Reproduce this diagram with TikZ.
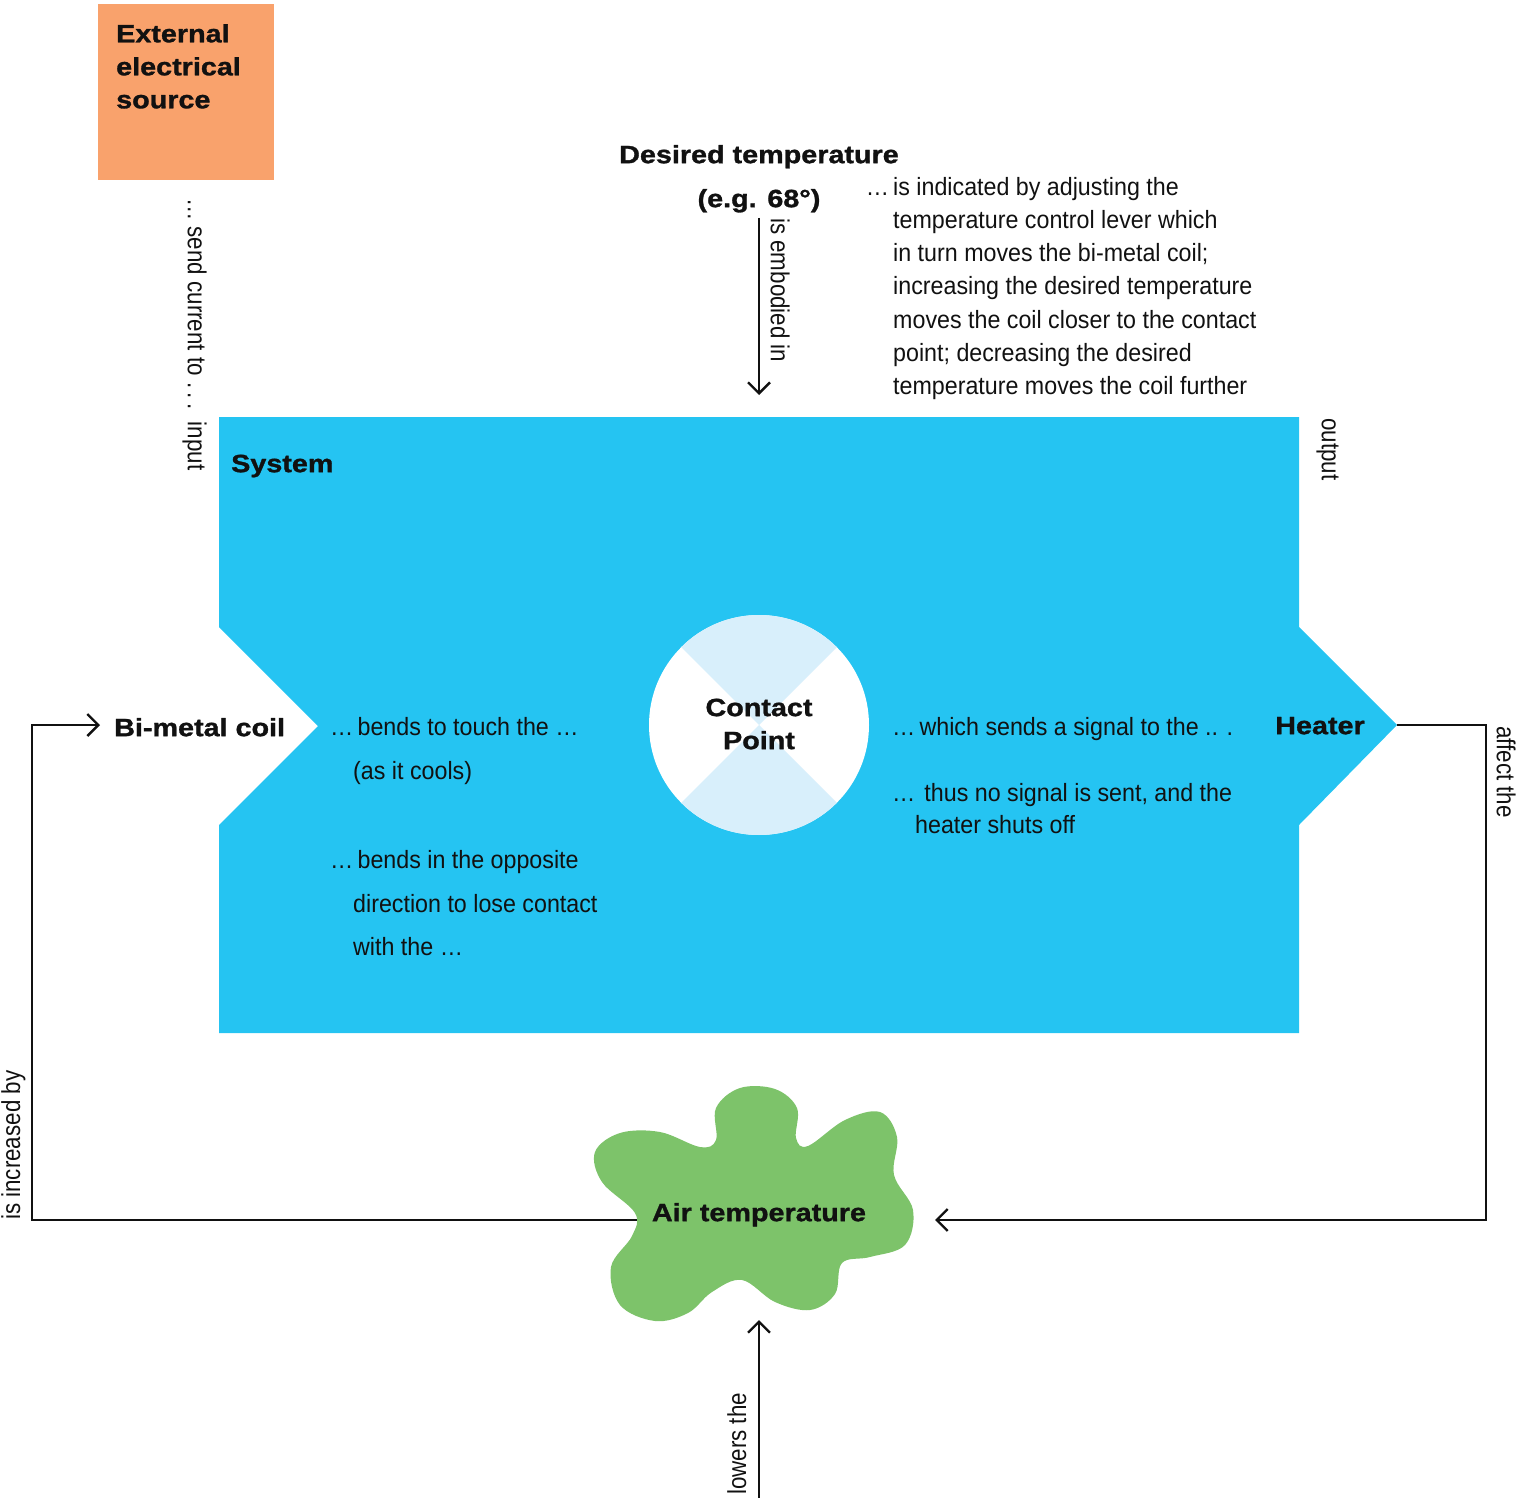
\documentclass[tikz,border=0pt]{standalone}
\usepackage{fontspec}
\usetikzlibrary{arrows.meta}
\newfontfamily\bodyfont[FakeStretch=0.93]{Liberation Sans}
\newfontfamily\sidefont[FakeStretch=0.86]{Liberation Sans}
\newfontfamily\lblfont[FakeStretch=1.15,FakeBold=1.2]{Liberation Sans}
\definecolor{sysblue}{HTML}{25C4F2}
\definecolor{paleblue}{HTML}{D8EFFB}
\definecolor{srcorange}{HTML}{F9A26C}
\definecolor{airgreen}{HTML}{7DC36A}
\definecolor{ink}{HTML}{111111}
\tikzset{
  bodytxt/.style={inner sep=0pt, anchor=mid west, text=ink, font=\bodyfont\fontsize{25}{33}\selectfont},
  sidetxt/.style={inner sep=0pt, anchor=mid west, text=ink, font=\sidefont\fontsize{26}{33}\selectfont},
  lbl/.style={inner sep=0pt, text=ink, font=\lblfont\bfseries\fontsize{25}{33}\selectfont},
  conn/.style={draw=ink, line width=2.4pt},
  tip/.style={-{Straight Barb[length=11pt, width=22pt, line width=2.4pt]}}
}
\begin{document}
\begin{tikzpicture}[x=1pt, y=-1pt]
\useasboundingbox (0,0) rectangle (1527,1498);

% external source block
\node[fill=srcorange, minimum width=176pt, minimum height=176pt, inner sep=0pt, anchor=north west] (src) at (98,4) {};
\node[lbl, anchor=north west, align=left] (srctxt) at (116,24) {External\\electrical\\source};
\node[sidetxt, rotate=-90] (sendlbl) at (190,198) {… send current to .\,.\,.\ \ input};

% system body with notch on the left and pointer on the right
\fill[sysblue] (219,417) -- (1299,417) -- (1299,627) -- (1397,725) -- (1299,825)
  -- (1299,1033) -- (219,1033) -- (219,825) -- (318,726) -- (219,627) -- cycle;
\node[lbl, anchor=mid west] (sys) at (231,470) {System};
\node[sidetxt, rotate=-90] (outlbl) at (1324,418) {output};

% contact point disc
\coordinate (cpc) at (759,725);
\fill[white] (cpc) circle[radius=110];
\fill[paleblue] (cpc) -- ++(45:110) arc[start angle=45, end angle=135, radius=110] -- cycle;
\fill[paleblue] (cpc) -- ++(225:110) arc[start angle=225, end angle=315, radius=110] -- cycle;
\node[lbl, align=center] (cp) at (759,724) {Contact\\Point};

% desired temperature and its note
\node[lbl, anchor=mid] (desired) at (759,161) {Desired temperature};
\node[lbl, anchor=mid] (eg) at (759,205) {(e.g. 68°)};
\coordinate (embodyend) at (759,395);
\draw[conn, tip] (eg.south |- 0,218) -- (embodyend);
\node[sidetxt, rotate=-90] (embodlbl) at (773,218) {is embodied in};

\node[bodytxt] (lever1) at (893,193) {\llap{…\,}is indicated by adjusting the};
\node[bodytxt] (lever2) at (893,226) {temperature control lever which};
\node[bodytxt] (lever3) at (893,259) {in turn moves the bi-metal coil;};
\node[bodytxt] (lever4) at (893,292) {increasing the desired temperature};
\node[bodytxt] (lever5) at (893,326) {moves the coil closer to the contact};
\node[bodytxt] (lever6) at (893,359) {point; decreasing the desired};
\node[bodytxt] (lever7) at (893,392) {temperature moves the coil further};

% bi-metal coil side
\node[lbl, anchor=mid west] (coil) at (114,734) {Bi-metal coil};
\node[bodytxt] (touch1) at (330,733) {…\,bends to touch the …};
\node[bodytxt] (touch2) at (353,777) {(as it cools)};
\node[bodytxt] (lose1) at (330,866) {…\,bends in the opposite};
\node[bodytxt] (lose2) at (353,910) {direction to lose contact};
\node[bodytxt] (lose3) at (353,953) {with the …};

% heater side
\node[lbl, anchor=mid] (heater) at (1320,732) {Heater};
\node[bodytxt] (signal) at (892,733) {…\,which sends a signal to the .. .};
\node[bodytxt] (nosig1) at (892,799) {…\hspace{9pt}thus no signal is sent, and the};
\node[bodytxt] (nosig2) at (915,831) {heater shuts off};

% feedback loop into the coil
\coordinate (airW) at (640,1220);
\coordinate (airE) at (935,1220);
\coordinate (loopSW) at (32,1220);
\coordinate (loopNW) at (32,725);
\coordinate (coilin) at (100,725);
\draw[conn, tip] (airW) -- (loopSW) -- (loopNW) -- (coilin);
\node[sidetxt, rotate=90] (incr) at (18,1220) {is increased by};

% air temperature blob
\fill[airgreen] plot[smooth cycle, tension=0.6] coordinates {
  (635,1213) (602,1182) (595,1152) (620,1133) (660,1132) (700,1147)
  (716,1140) (716,1108) (740,1088) (775,1089) (797,1108) (796,1138)
  (808,1146) (845,1120) (880,1112) (897,1137) (894,1175) (913,1210)
  (905,1245) (870,1257) (842,1263) (835,1294) (810,1310) (775,1302)
  (742,1280) (712,1292) (688,1313) (655,1321) (620,1305) (611,1267)
  (632,1236)};
\node[lbl, anchor=mid] (air) at (759,1219) {Air temperature};

% heater output loop
\coordinate (heatertip) at (1397,725);
\coordinate (loopNE) at (1486,725);
\coordinate (loopSE) at (1486,1220);
\draw[conn, tip] (heatertip) -- (loopNE) -- (loopSE) -- (airE);
\node[sidetxt, rotate=-90] (affect) at (1499,726) {affect the};

\coordinate (lowstart) at (759,1498);
\coordinate (lowend) at (759,1320);
\draw[conn, tip] (lowstart) -- (lowend);
\node[sidetxt, rotate=90] (lowers) at (744,1495) {lowers the};
\end{tikzpicture}
\end{document}
